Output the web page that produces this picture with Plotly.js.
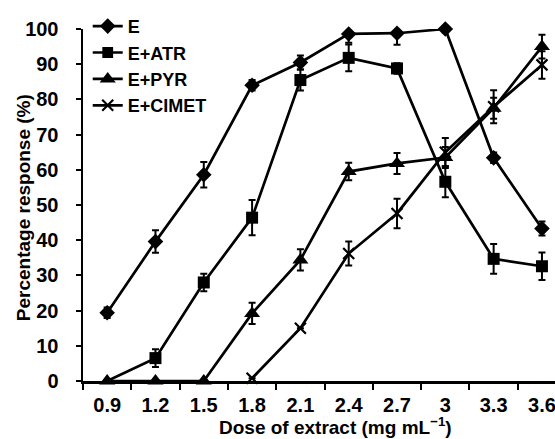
<!DOCTYPE html>
<html>
<head>
<meta charset="utf-8">
<script src="https://cdn.plot.ly/plotly-3.0.1.min.js"></script>
<style>html,body{margin:0;padding:0;background:#fff;}#chart{width:555px;height:439px;}</style>
</head>
<body>
<div id="chart"></div>
<script>
// Data
var doses = ['0.9','1.2','1.5','1.8','2.1','2.4','2.7','3','3.3','3.6'];
var seriesNames = ['E','E+ATR','E+PYR','E+CIMET'];
var E        = [19.4, 39.6, 58.6, 84.0, 90.5, 98.6, 98.8, 100.0, 63.4, 43.3];
var E_err    = [1.5, 3.2, 3.6, 1.5, 2.0, 2.5, 3.3, 1.0, 1.5, 2.0];
var ATR      = [0, 6.5, 28.0, 46.4, 85.5, 91.8, 88.8, 56.6, 34.7, 32.6];
var ATR_err  = [0, 2.5, 2.5, 5.0, 3.0, 3.8, 1.5, 4.4, 4.2, 3.9];
var PYR      = [0, 0, 0, 19.2, 34.4, 59.5, 61.8, 63.5, 77.5, 95.0];
var PYR_err  = [0, 0, 0, 3.0, 3.0, 2.5, 3.0, 3.0, 3.0, 3.4];
var CIMET    = [null, null, null, 0.8, 15.0, 36.2, 47.6, 65.0, 77.9, 89.8];
var CIMET_err= [0, 0, 0, 0, 0, 3.4, 4.2, 4.0, 4.7, 3.9];
var yTicks = [0,10,20,30,40,50,60,70,80,90,100];

var FONT = 'Liberation Sans, Arial, Helvetica, sans-serif';
function errBar(arr){
  return {type:'data', array:arr, visible:true, color:'#000', thickness:2, width:3.5};
}
function trace(name, y, err, symbol, size, extra){
  return {
    type:'scatter', mode:'lines+markers', name:name,
    x:doses, y:y, error_y:errBar(err),
    line:{color:'#000', width:2.7},
    marker:{symbol:symbol, size:size, color:'#000', opacity:1, line:{color:'#000', width:extra||0}},
    cliponaxis:false, connectgaps:false
  };
}
// the first E+ATR point sits hidden under the E+PYR triangle in the reference
var atrSizes = doses.map(function(d, i){ return i === 0 ? 0 : 12; });
var data = [
  trace(seriesNames[0], E, E_err, 'diamond', 12),
  trace(seriesNames[1], ATR, ATR_err, 'square', atrSizes),
  trace(seriesNames[2], PYR, PYR_err, 'triangle-up', 14),
  trace(seriesNames[3], CIMET, CIMET_err, 'x-thin', 11, 2.2)
];

var layout = {
  width:555, height:439,
  margin:{l:83, r:0, t:29, b:58, pad:0},
  paper_bgcolor:'#fff', plot_bgcolor:'#fff',
  showlegend:true,
  font:{family:FONT, color:'#000'},
  xaxis:{
    type:'category', categoryorder:'array', categoryarray:doses,
    range:[-0.5, 9.27], tickson:'boundaries',
    ticks:'outside', ticklen:6, tickwidth:2, tickcolor:'#000',
    showline:true, linewidth:2.5, linecolor:'#000',
    showgrid:false, zeroline:false, fixedrange:true,
    ticklabelstandoff:4,
    tickfont:{family:FONT, size:20, weight:'bold', color:'#000'}
  },
  yaxis:{
    range:[0,100], tickmode:'array', tickvals:yTicks, ticktext:yTicks.map(String),
    ticks:'outside', ticklen:5, tickwidth:2, tickcolor:'#000',
    showline:true, linewidth:2.5, linecolor:'#000',
    showgrid:false, zeroline:false, fixedrange:true,
    ticklabelstandoff:13,
    tickfont:{family:FONT, size:20, weight:'bold', color:'#000'}
  },
  legend:{
    x:0.01, y:1.06, xanchor:'left', yanchor:'top',
    bgcolor:'rgba(0,0,0,0)', borderwidth:0,
    font:{family:FONT, size:18, weight:'bold', color:'#000'},
    tracegroupgap:0
  },
  annotations:[
    {text:'Dose of extract (mg mL<sup>−1</sup>)', xref:'paper', yref:'paper',
     x:0.534, y:-0.168, xanchor:'center', yanchor:'bottom', showarrow:false,
     font:{family:FONT, size:19, weight:'bold', color:'#000'}},
    {text:'Percentage response (%)', xref:'paper', yref:'paper', textangle:-90,
     x:-0.127, y:0.491, xanchor:'center', yanchor:'middle', showarrow:false,
     font:{family:FONT, size:19, weight:'bold', color:'#000'}}
  ]
};
Plotly.newPlot('chart', data, layout, {displayModeBar:false, staticPlot:true});
</script>
</body>
</html>
